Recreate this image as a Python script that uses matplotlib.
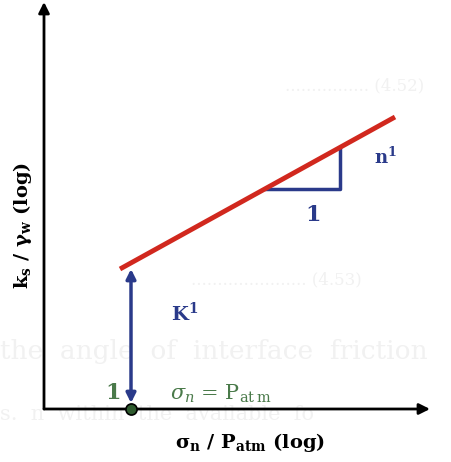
import numpy as np
import matplotlib
matplotlib.use('Agg')
import matplotlib.pyplot as plt

plt.rcParams['font.family'] = ['DejaVu Serif']
plt.rcParams['mathtext.fontset'] = 'dejavuserif'

# schematic in log units: x = log(sigma_n/Patm), y = log(ks/gamma_w)
axis_x = [-0.87, 2.99]      # x-axis extent
axis_y = [0.0, 4.0]         # y-axis extent
line_x = [-0.11, 2.64]      # red fitted line
line_y = [1.40, 2.92]
tri_x = [1.35, 2.09, 2.09]  # slope triangle
tri_y = [2.20, 2.20, 2.61]
k_x = 0.0                   # K arrow position (sigma_n = Patm)
k_y = [0.06, 1.40]

red = '#d1281e'
blue = '#2a3a8a'
green = '#4a7a4a'

fig = plt.figure(figsize=(4.52, 4.62), dpi=100)
ax = fig.add_axes([0, 0, 1, 1])
ax.set_xlim(-1.31, 3.21)
ax.set_ylim(-0.53, 4.09)
ax.axis('off')

# faint bleed-through text from the scanned page
ghost = '#f1f1f1'
ax.text(1.54, 3.23, '................ (4.52)', color=ghost, fontsize=12, ha='left', va='center', zorder=0)
ax.text(0.6, 1.29, '...................... (4.53)', color=ghost, fontsize=12, ha='left', va='center', zorder=0)
ax.text(-1.31, 0.57, 'the  angle  of  interface  friction', color=ghost, fontsize=19, ha='left', va='center', zorder=0)
ax.text(-1.31, -0.05, 's.  n  within  the  available  fo', color=ghost, fontsize=15, ha='left', va='center', zorder=0)

# axes arrows
ax.annotate('', xy=(axis_x[0], axis_y[1] + 0.07), xytext=(axis_x[0], axis_y[0]),
            arrowprops=dict(arrowstyle='-|>', color='black', lw=2, mutation_scale=16, shrinkA=0, shrinkB=0))
ax.annotate('', xy=(axis_x[1], 0), xytext=(axis_x[0], 0),
            arrowprops=dict(arrowstyle='-|>', color='black', lw=2, mutation_scale=16, shrinkA=0, shrinkB=0))

# red line
ax.plot(line_x, line_y, color=red, lw=3.5, solid_capstyle='butt', zorder=3)

# slope triangle
ax.plot(tri_x, tri_y, color=blue, lw=2.5, zorder=2)
ax.text(2.54, 2.52, r'$\mathbf{n^1}$', color=blue, fontsize=13, ha='center', va='center')
ax.text(1.82, 1.94, '1', color=blue, fontsize=16, fontweight='bold', ha='center', va='center')

# K arrow
ax.annotate('', xy=(k_x, k_y[1]), xytext=(k_x, k_y[0]),
            arrowprops=dict(arrowstyle='<|-|>', color=blue, lw=2.5, mutation_scale=14, shrinkA=0, shrinkB=0))
ax.text(0.54, 0.96, r'$\mathbf{K^1}$', color=blue, fontsize=14, ha='center', va='center')

# reference point
ax.plot([k_x], [0], 'o', ms=8, mfc='#2e5a2e', mec='black', mew=1.2, zorder=4)
ax.text(-0.18, 0.16, '1', color=green, fontsize=16, fontweight='bold', ha='center', va='center')
ax.text(0.39, 0.15, r'$\sigma_n$ = P$_{\mathrm{at\,m}}$', color=green, fontsize=15, ha='left', va='center')

# axis labels
ax.text(1.19, -0.34, r'$\mathbf{\sigma_n}$ / P$_{\mathbf{atm}}$ (log)', fontsize=14, fontweight='bold',
        ha='center', va='center')
ax.text(-1.09, 1.84, r'k$_{\mathbf{s}}$ / $\mathbf{\gamma_w}$ (log)', fontsize=14, fontweight='bold',
        rotation=90, ha='center', va='center')

fig.savefig('out.png', dpi=100)
